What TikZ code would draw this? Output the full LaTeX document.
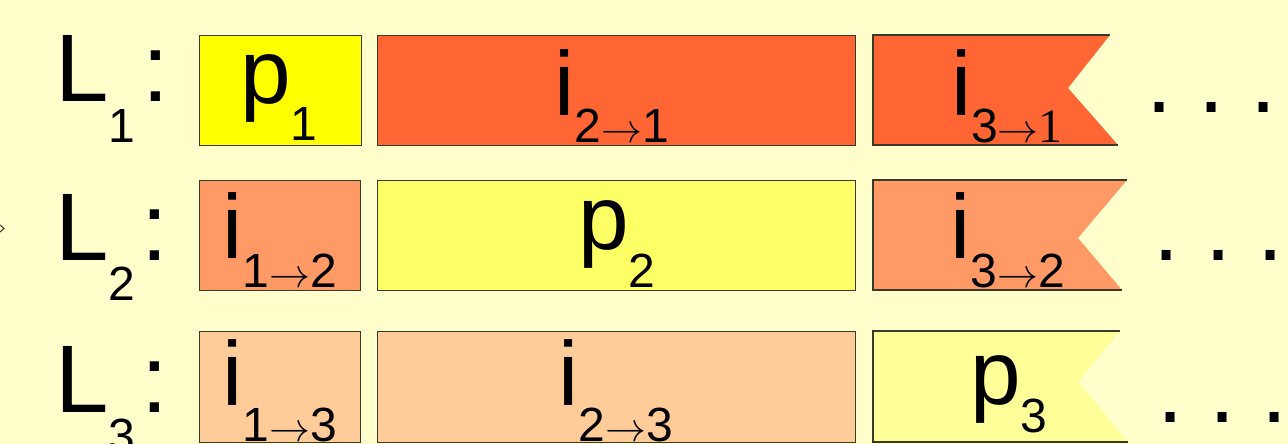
\RequirePackage{fix-cm}
\documentclass[tikz,border=0pt]{standalone}
\usepackage{fontspec}
\setmainfont{Liberation Sans}
\newfontfamily\serifnum{Liberation Serif}
\definecolor{bgc}{HTML}{FFFFCC}
\definecolor{cpA}{HTML}{FFFF00}
\definecolor{cpB}{HTML}{FFFF66}
\definecolor{cpC}{HTML}{FFFF99}
\definecolor{ciA}{HTML}{FF6633}
\definecolor{ciB}{HTML}{FF9966}
\definecolor{ciC}{HTML}{FFCC99}
\definecolor{edge}{HTML}{3A3A2A}
\newcommand\mainlab[3]{\fontsize{91}{91}\selectfont #1\raisebox{-#3pt}{\fontsize{48}{48}\selectfont #2}}
\newcommand\arr{{\fontsize{41}{41}\selectfont$\rightarrow$}}
\newcommand\rowlab[2]{\fontsize{96}{96}\selectfont L\raisebox{-40pt}{\fontsize{48}{48}\selectfont #1}\kern #2pt:}
\tikzset{
  cell/.style={draw=edge, line width=1.2pt, inner sep=0pt, anchor=north west, minimum height=110pt},
  txt/.style={inner sep=0pt, anchor=base},
  rowtxt/.style={inner sep=0pt, anchor=base west},
  dotstxt/.style={inner sep=0pt, anchor=base west, font=\fontsize{94}{94}\selectfont\frenchspacing},
  flagedge/.style={draw=edge, line width=1.2pt},
}
\begin{document}
\begin{tikzpicture}[x=1pt,y=-1pt]
\useasboundingbox (0,0) rectangle (1288,444);
\fill[bgc] (0,0) rectangle (1288,444);
% small chevron at left edge
\coordinate (cvA) at (0,225);
\coordinate (cvB) at (4,228.5);
\coordinate (cvC) at (0,232);
\draw[edge, line width=1pt] (cvA) -- (cvB) -- (cvC);
% row labels
\node[rowtxt] (L1) at (55,102) {\rowlab{1}{7}};
\node[rowtxt] (L2) at (55,260) {\rowlab{2}{6}};
\node[rowtxt] (L3) at (55,412) {\rowlab{3}{6}};
% row 1
\node[cell, fill=cpA, minimum width=162pt] (b11) at (199,35) {};
\node[cell, fill=ciA, minimum width=478pt] (b12) at (377,35) {};
\coordinate (f1a) at (1110,35);
\coordinate (f1n) at (1068,88);
\coordinate (f1b) at (1118,145);
\coordinate (f1c) at (873,145);
\coordinate (f1d) at (873,35);
\fill[ciA] (f1d) -- (f1a) -- (f1n) -- (f1b) -- (f1c) -- cycle;
\draw[flagedge] (f1a) -- (f1d) -- (f1c) -- (f1b);
\node[txt] (t11) at (279,103) {\mainlab{p}{1}{37}};
\node[txt] (t12) at (612,115) {\mainlab{i}{2\arr1}{27}};
\node[txt] (t13) at (1007,115) {\mainlab{i}{3\arr{\serifnum 1}}{27}};
\node[dotstxt] (d1) at (1146,113) {. . .};
% row 2
\node[cell, fill=ciB, minimum width=161pt] (b21) at (199,180) {};
\node[cell, fill=cpB, minimum width=478pt] (b22) at (377,180) {};
\coordinate (f2a) at (1127,180);
\coordinate (f2n) at (1078,238);
\coordinate (f2b) at (1122,290);
\coordinate (f2c) at (873,290);
\coordinate (f2d) at (873,180);
\fill[ciB] (f2d) -- (f2a) -- (f2n) -- (f2b) -- (f2c) -- cycle;
\draw[flagedge] (f2a) -- (f2d) -- (f2c) -- (f2b);
\node[txt] (t21) at (280,258) {\mainlab{i}{1\arr2}{29}};
\node[txt] (t22) at (617,249) {\mainlab{p}{2}{38}};
\node[txt] (t23) at (1008,258) {\mainlab{i}{3\arr2}{29}};
\node[dotstxt] (d2) at (1153,260) {. . .};
% row 3
\node[cell, fill=ciC, minimum width=161pt, minimum height=111pt] (b31) at (199,331) {};
\node[cell, fill=ciC, minimum width=478pt, minimum height=111pt] (b32) at (377,331) {};
\coordinate (f3a) at (1120,331);
\coordinate (f3n) at (1078,382);
\coordinate (f3b) at (1128,442);
\coordinate (f3c) at (873,442);
\coordinate (f3d) at (873,331);
\fill[cpC] (f3d) -- (f3a) -- (f3n) -- (f3b) -- (f3c) -- cycle;
\draw[flagedge] (f3a) -- (f3d) -- (f3c) -- (f3b);
\node[txt] (t31) at (280,405) {\mainlab{i}{1\arr3}{36}};
\node[txt] (t32) at (616,405) {\mainlab{i}{2\arr3}{36}};
\node[txt] (t33) at (1009,404) {\mainlab{p}{3}{28}};
\node[dotstxt] (d3) at (1157,422) {. . .};
\end{tikzpicture}
\end{document}
